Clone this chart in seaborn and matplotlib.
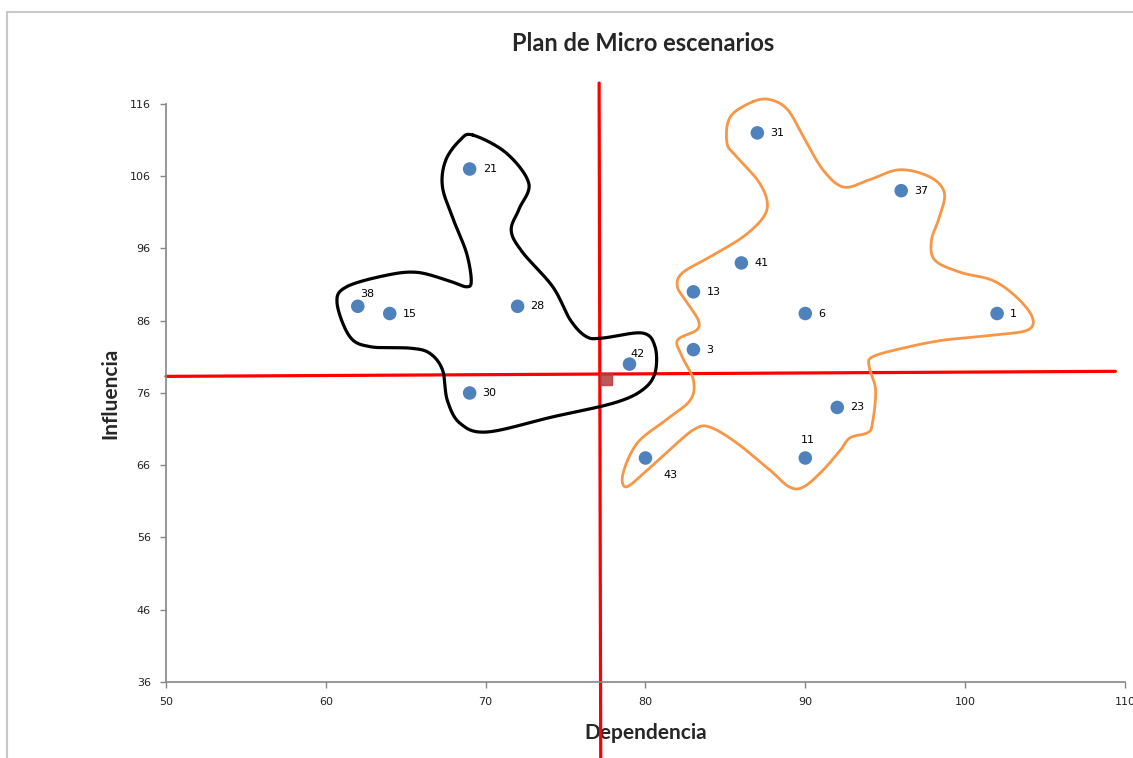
import numpy as np
import pandas as pd
import matplotlib
matplotlib.use('Agg')
import matplotlib.pyplot as plt
import seaborn as sns
from matplotlib.patches import Rectangle

# datos de las variables (dependencia, influencia)
etiquetas = ['21', '38', '15', '28', '30', '42', '3', '13', '41', '6', '1', '31', '37', '23', '11', '43']
dependencia = [69, 62, 64, 72, 69, 79, 83, 83, 86, 90, 102, 87, 96, 92, 90, 80]
influencia = [107, 88, 87, 88, 76, 80, 82, 90, 94, 87, 87, 112, 104, 74, 67, 67]

# punto medio y ejes de corte
media_x = [77.5]
media_y = [78.0]
corte_x = [77.1, 77.2]
corte_y = [78.3, 79.0]

x_ticks = [50, 60, 70, 80, 90, 100, 110]
y_ticks = [36, 46, 56, 66, 76, 86, 96, 106, 116]

# contornos dibujados a mano (grupos)
grupo_negro_x = [69.2, 71.3, 72.7, 72.1, 71.6, 72.3, 74.2, 75.3, 76.3, 77.3, 79.8, 80.6, 80.6,
                 79.8, 78.0, 74.2, 70.1, 68.4, 67.6, 67.3, 66.5, 65.3, 62.8, 61.5, 60.7, 61.3, 63.8,
                 65.7, 67.6, 68.8, 69.1, 68.8, 68.0, 67.3, 67.5, 68.4]
grupo_negro_y = [111.7, 109.2, 105.0, 101.5, 98.5, 95.5, 90.7, 86.1, 83.8, 83.6, 84.3, 82.4, 78.8,
                 76.4, 74.6, 72.7, 70.6, 71.8, 75.0, 79.2, 81.5, 82.2, 82.4, 83.8, 88.5, 90.7, 92.3,
                 92.7, 91.6, 90.7, 91.6, 95.4, 99.9, 104.5, 108.2, 111.0]

grupo_naranja_x = [86.7, 87.8, 88.9, 89.9, 91.1, 92.4, 94.0, 95.9, 97.8, 98.7, 98.4, 97.9, 98.1, 99.7,
                   101.7, 103.2, 104.2, 103.9, 101.7, 98.6, 96.1, 94.2, 94.0, 94.4, 94.2, 93.9, 92.8,
                   92.2, 91.1, 89.9, 89.0, 87.8, 85.7, 84.0, 83.0, 81.5, 80.1, 78.8, 78.6, 79.5, 81.3,
                   82.8, 83.0, 82.3, 82.0, 83.2, 83.3, 82.6, 82.0, 82.3, 84.0, 86.1, 87.4, 87.6, 87.0,
                   85.7, 85.1, 85.3]
grupo_naranja_y = [116.3, 116.6, 115.2, 111.4, 106.9, 104.5, 105.5, 106.9, 105.9, 103.7, 100.4, 97.2,
                   94.4, 92.7, 91.6, 89.3, 86.5, 84.7, 84.0, 83.3, 82.2, 81.0, 79.6, 76.4, 71.8, 70.5,
                   69.8, 68.1, 65.3, 63.0, 63.0, 65.3, 69.1, 71.3, 70.9, 68.1, 65.3, 63.0, 64.9, 69.1,
                   72.3, 75.0, 77.8, 81.0, 83.3, 84.7, 86.1, 88.5, 90.7, 92.6, 94.8, 97.6, 100.4, 102.7,
                   105.5, 108.7, 110.6, 114.2]

# desplazamiento de cada etiqueta (pixeles)
desplaz = {'38': (2, 12), '42': (1, 10), '11': (-4, 18), '43': (18, -17)}


def suavizar(xs, ys, n=20):
    # curva cerrada Catmull-Rom
    p = np.column_stack([xs, ys])
    N = len(p)
    t = np.linspace(0, 1, n, endpoint=False)[:, None]
    segs = []
    for i in range(N):
        p0, p1, p2, p3 = p[i - 1], p[i], p[(i + 1) % N], p[(i + 2) % N]
        segs.append(0.5 * (2 * p1 + (-p0 + p2) * t + (2 * p0 - 5 * p1 + 4 * p2 - p3) * t ** 2
                           + (-p0 + 3 * p1 - 3 * p2 + p3) * t ** 3))
    segs.append(p[:1])
    return np.vstack(segs)


df = pd.DataFrame({'Dependencia': dependencia, 'Influencia': influencia, 'etiqueta': etiquetas})

sns.set_theme(style='white')
plt.rcParams['font.family'] = ['DejaVu Sans']

fig = plt.figure(figsize=(11.33, 7.58), dpi=100)
ax = fig.add_axes([0.1465, 0.1003, 0.8464, 0.7625])

# marco exterior
fig.patches.append(Rectangle((0.0062, -0.05), 1.2, 0.05 + 0.984, transform=fig.transFigure,
                             fill=False, edgecolor='#c8c8c8', lw=1.5))

# lineas de corte
ax.plot([50, 109.4], corte_y, color='#ff0000', lw=2.3, zorder=2, clip_on=False)
ax.plot(corte_x, [118.9, 25.5], color='#ff0000', lw=2.3, zorder=2, clip_on=False)

# contornos
c = suavizar(grupo_negro_x, grupo_negro_y)
ax.plot(c[:, 0], c[:, 1], color='black', lw=2.3, zorder=3, clip_on=False)
c = suavizar(grupo_naranja_x, grupo_naranja_y)
ax.plot(c[:, 0], c[:, 1], color='#f79646', lw=2.0, zorder=3, clip_on=False)

sns.scatterplot(data=df, x='Dependencia', y='Influencia', ax=ax, s=95, color='#4f81bd',
                edgecolor='none', zorder=5)
ax.scatter(media_x, media_y, marker='s', s=70, color='#b43c3c', alpha=0.85, zorder=4)

for _, r in df.iterrows():
    dx, dy = desplaz.get(r['etiqueta'], (13, 0))
    ax.annotate(r['etiqueta'], (r['Dependencia'], r['Influencia']), xytext=(dx, dy),
                textcoords='offset pixels', ha='left', va='center', fontsize=8, color='black')

ax.set_xlim(50, 110)
ax.set_ylim(36, 116)
ax.set_xticks(x_ticks)
ax.set_yticks(y_ticks)
ax.tick_params(axis='both', labelsize=8, colors='#222222', length=4, width=1, direction='out',
               pad=7, left=True, bottom=True)
ax.tick_params(axis='both', color='#868686')
for s in ['top', 'right']:
    ax.spines[s].set_visible(False)
for s in ['left', 'bottom']:
    ax.spines[s].set_color('#868686')
    ax.spines[s].set_linewidth(1.2)

ax.set_xlabel('Dependencia', fontsize=15, fontweight='bold', family=['Lato', 'DejaVu Sans'], labelpad=11)
ax.set_ylabel('Influencia', fontsize=15, fontweight='bold', family=['Lato', 'DejaVu Sans'], labelpad=7)
fig.text(0.5675, 0.943, 'Plan de Micro escenarios', ha='center', va='center', fontsize=17,
         fontweight='bold', family=['Lato', 'DejaVu Sans'])

fig.savefig('out.png', dpi=100, facecolor='white')
